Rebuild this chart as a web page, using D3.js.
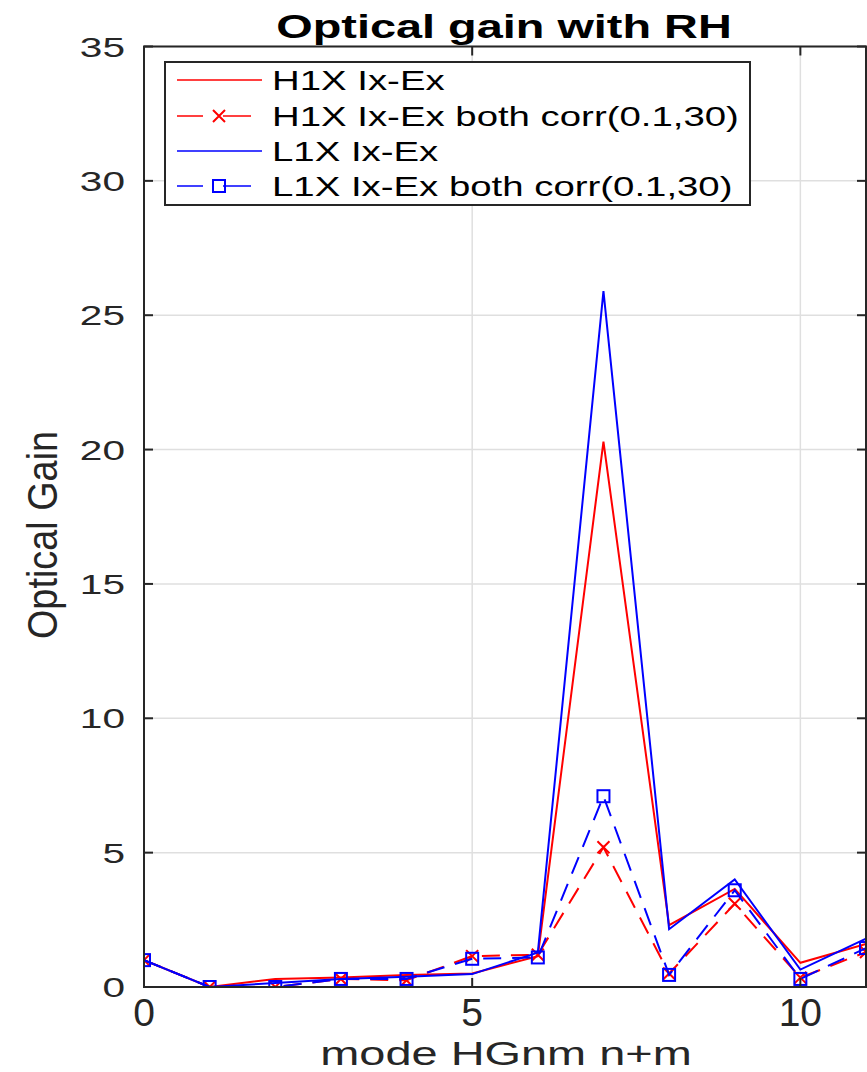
<!DOCTYPE html>
<html>
<head>
<meta charset="utf-8">
<script src="https://cdn.jsdelivr.net/npm/d3@7"></script>
<style>
  html, body { margin: 0; padding: 0; background: #ffffff; }
  svg { display: block; }
  text { font-family: "Liberation Sans", Arial, Helvetica, sans-serif; fill: #000; }
</style>
</head>
<body>
<script>
// Optical gain per Hermite-Gauss mode order (n+m)
const modes = [0, 1, 2, 3, 4, 5, 6, 7, 8, 9, 10, 11];
const h1x      = [1.0, 0.0, 0.3, 0.35, 0.45, 0.5, 1.15, 20.3, 2.3, 3.65, 0.9, 1.6];
const h1xCorr  = [1.0, 0.0, 0.0, 0.3, 0.25, 1.15, 1.2, 5.2, 0.5, 3.1, 0.35, 1.3];
const l1x      = [1.0, 0.0, 0.15, 0.3, 0.38, 0.48, 1.28, 25.9, 2.15, 4.0, 0.65, 1.8];
const l1xCorr  = [1.0, 0.0, 0.0, 0.3, 0.3, 1.05, 1.1, 7.1, 0.45, 3.6, 0.3, 1.45];
const seriesNames = ["H1X Ix-Ex", "H1X Ix-Ex both corr(0.1,30)", "L1X Ix-Ex", "L1X Ix-Ex both corr(0.1,30)"];
const xTicks = [0, 5, 10];
const yTicks = [0, 5, 10, 15, 20, 25, 30, 35];

const W = 867, H = 1072;
const plot = { left: 144, right: 866, top: 46.5, bottom: 987 };

const svg = d3.select("body").append("svg").attr("width", W).attr("height", H);

const x = d3.scaleLinear().domain([0, 11]).range([plot.left, plot.right]);
const y = d3.scaleLinear().domain([0, 35]).range([plot.bottom, plot.top]);

const axisColor = "#262626";
const gridColor = "#dfdfdf";

// grid
const grid = svg.append("g");
grid.selectAll("line.gx").data(xTicks.filter(d => d > 0)).join("line")
  .attr("x1", d => x(d)).attr("x2", d => x(d))
  .attr("y1", plot.top).attr("y2", plot.bottom)
  .attr("stroke", gridColor).attr("stroke-width", 1.5);
grid.selectAll("line.gy").data(yTicks.filter(d => d > 0)).join("line")
  .attr("x1", plot.left).attr("x2", plot.right)
  .attr("y1", d => y(d)).attr("y2", d => y(d))
  .attr("stroke", gridColor).attr("stroke-width", 1.5);

// data
svg.append("clipPath").attr("id", "plotclip").append("rect")
  .attr("x", plot.left).attr("y", plot.top)
  .attr("width", plot.right - plot.left).attr("height", plot.bottom - plot.top);

const series = [
  { name: seriesNames[0], values: h1x,     color: "#ff0000", dash: null,    marker: null },
  { name: seriesNames[1], values: h1xCorr, color: "#ff0000", dash: "18,11", marker: "x" },
  { name: seriesNames[2], values: l1x,     color: "#0000ff", dash: null,    marker: null },
  { name: seriesNames[3], values: l1xCorr, color: "#0000ff", dash: "18,11", marker: "square" }
];

const line = d3.line().x((d, i) => x(modes[i])).y(d => y(d));
const dataG = svg.append("g").attr("clip-path", "url(#plotclip)");

function drawMarker(g, type, cx, cy, color) {
  if (type === "x") {
    const s = 6;
    g.append("path")
      .attr("d", `M${cx - s},${cy - s}L${cx + s},${cy + s}M${cx - s},${cy + s}L${cx + s},${cy - s}`)
      .attr("stroke", color).attr("stroke-width", 2).attr("fill", "none");
  } else if (type === "square") {
    const s = 6;
    g.append("rect").attr("x", cx - s).attr("y", cy - s).attr("width", 2 * s).attr("height", 2 * s)
      .attr("stroke", color).attr("stroke-width", 2).attr("fill", "none");
  }
}

series.forEach(s => {
  dataG.append("path")
    .attr("d", line(s.values))
    .attr("fill", "none")
    .attr("stroke", s.color)
    .attr("stroke-width", 2)
    .attr("stroke-dasharray", s.dash);
  if (s.marker) {
    const mg = dataG.append("g");
    s.values.forEach((v, i) => drawMarker(mg, s.marker, x(modes[i]), y(v), s.color));
  }
});

// axes box and inward ticks
const tickLen = 9;
const ax = svg.append("g").attr("stroke", axisColor).attr("stroke-width", 2).attr("fill", "none");
ax.append("rect").attr("x", plot.left).attr("y", plot.top)
  .attr("width", plot.right - plot.left).attr("height", plot.bottom - plot.top);
xTicks.forEach(t => {
  ax.append("line").attr("x1", x(t)).attr("x2", x(t)).attr("y1", plot.bottom).attr("y2", plot.bottom - tickLen);
  ax.append("line").attr("x1", x(t)).attr("x2", x(t)).attr("y1", plot.top).attr("y2", plot.top + tickLen);
});
yTicks.forEach(t => {
  ax.append("line").attr("x1", plot.left).attr("x2", plot.left + tickLen).attr("y1", y(t)).attr("y2", y(t));
  ax.append("line").attr("x1", plot.right).attr("x2", plot.right - tickLen).attr("y1", y(t)).attr("y2", y(t));
});

// tick labels
svg.append("g").selectAll("text").data(yTicks).join("text")
  .attr("transform", d => `translate(125,${y(d)}) scale(1.45,1)`)
  .attr("text-anchor", "end").attr("dy", "0.36em")
  .style("font-size", "28px").style("fill", "#262626")
  .text(d => d);

svg.append("g").selectAll("text").data(xTicks).join("text")
  .attr("x", d => x(d)).attr("y", 1026)
  .attr("text-anchor", "middle")
  .style("font-size", "39px").style("fill", "#262626")
  .text(d => d);

// axis titles
svg.append("text")
  .attr("transform", "translate(506,1065) scale(1.38,1)")
  .attr("text-anchor", "middle")
  .style("font-size", "34px").style("fill", "#262626")
  .text("mode HGnm n+m");

svg.append("text")
  .attr("transform", "translate(57,535) rotate(-90) scale(0.88,1)")
  .attr("text-anchor", "middle")
  .style("font-size", "43px").style("fill", "#262626")
  .text("Optical Gain");

svg.append("text")
  .attr("transform", "translate(504,38) scale(1.42,1)")
  .attr("text-anchor", "middle")
  .style("font-size", "33px").style("font-weight", "bold")
  .text("Optical gain with RH");

// legend
const leg = svg.append("g");
leg.append("rect").attr("x", 165).attr("y", 62).attr("width", 585).attr("height", 143)
  .attr("fill", "#ffffff").attr("stroke", axisColor).attr("stroke-width", 2);
const rowY = [80, 116, 151, 186];
series.forEach((s, i) => {
  const ry = rowY[i];
  if (s.marker) {
    leg.append("line").attr("x1", 177).attr("x2", 203).attr("y1", ry).attr("y2", ry)
      .attr("stroke", s.color).attr("stroke-width", 1.5);
    leg.append("line").attr("x1", 223).attr("x2", 251).attr("y1", ry).attr("y2", ry)
      .attr("stroke", s.color).attr("stroke-width", 1.5);
    drawMarker(leg, s.marker, 219, ry, s.color);
  } else {
    leg.append("line").attr("x1", 177).attr("x2", 262).attr("y1", ry).attr("y2", ry)
      .attr("stroke", s.color).attr("stroke-width", 1.5);
  }
  leg.append("text")
    .attr("transform", `translate(272,${ry}) scale(1.37,1)`)
    .attr("dy", "0.36em")
    .style("font-size", "28px")
    .text(s.name);
});
</script>
</body>
</html>
